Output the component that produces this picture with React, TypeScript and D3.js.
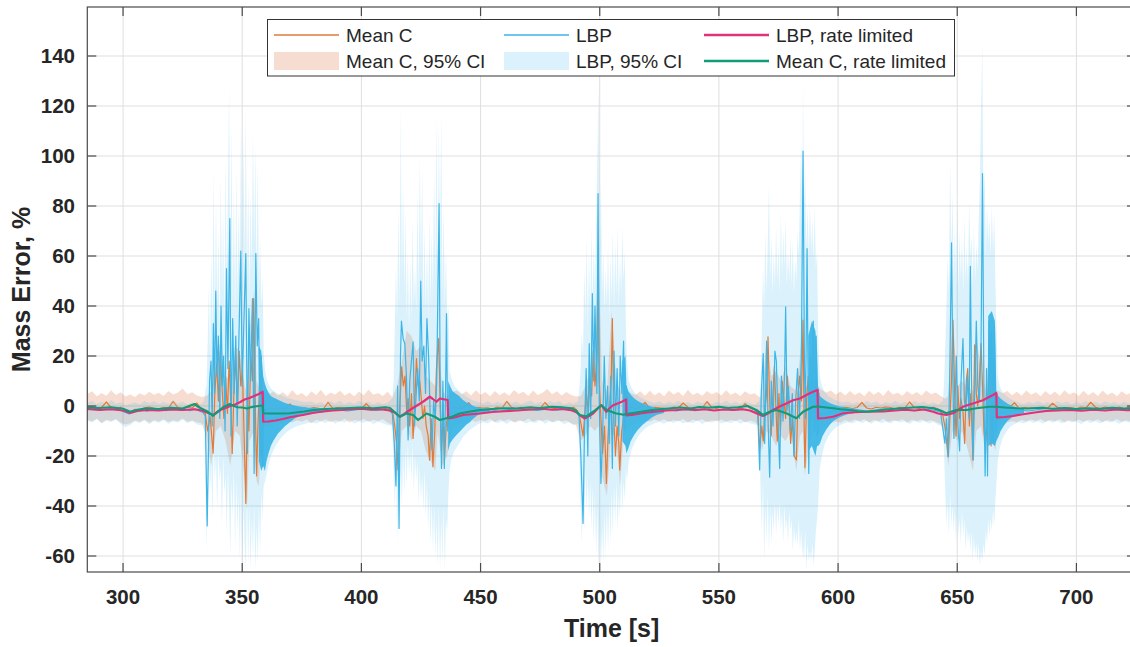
import React from 'react';
import * as d3 from 'd3';

// ---------------- data ----------------
const xTicks = [300, 350, 400, 450, 500, 550, 600, 650, 700];
const yTicks = [-60, -40, -20, 0, 20, 40, 60, 80, 100, 120, 140];
const xDomain: [number, number] = [285, 725];
const yDomain: [number, number] = [-66.4, 159.6];

const legendLabels = ['Mean C', 'LBP', 'LBP, rate limited', 'Mean C, 95% CI', 'LBP, 95% CI', 'Mean C, rate limited'];

// Mean C 95% CI: [t, lower, upper]
const meanCCI: [number, number, number][] = [
  [285, -5.5, 4.8], [287, -6.2, 5.9], [289, -5.1, 3.9], [291, -6.8, 5.2], [293, -5.4, 4.1], [295, -6.0, 6.3],
  [297, -5.2, 4.4], [299, -6.6, 5.5], [301, -7.4, 3.8], [303, -6.9, 4.6], [305, -5.8, 3.6], [307, -6.3, 5.1],
  [309, -5.5, 4.2], [311, -6.7, 5.7], [313, -5.6, 4.5], [315, -6.2, 5.3], [317, -5.3, 4.0], [319, -6.4, 6.0],
  [321, -5.7, 4.6], [323, -6.1, 5.4], [325, -5.0, 7.0], [327, -6.3, 4.7], [329, -5.8, 5.5], [331, -6.5, 4.2],
  [333, -7.0, 3.6],
  [335, -12, 4], [337, -24, 6], [339, -10, 20], [341, -8, 26], [343, -14, 12], [345, -24, 10], [347, -10, 24],
  [349, -12, 22], [351, -30, 8], [352, -42, 6], [353, -14, 30], [355, -10, 46], [356, -30, 10], [357, -32, 8],
  [358, -12, 10], [359, -8, 6],
  [361, -8.5, 4.5], [363, -7.2, 5.8], [365, -6.5, 4.1], [367, -7.0, 5.6], [369, -5.9, 3.9], [371, -6.6, 6.4],
  [373, -5.7, 4.3], [375, -6.3, 5.2], [377, -5.4, 3.7], [379, -6.9, 5.9], [381, -5.5, 4.4], [383, -6.1, 6.5],
  [385, -5.3, 4.0], [387, -6.5, 5.3], [389, -5.7, 4.6], [391, -6.2, 6.1], [393, -5.1, 4.2], [395, -6.6, 5.4],
  [397, -5.6, 3.9], [399, -6.0, 5.8], [401, -5.2, 4.3], [403, -6.4, 6.6], [405, -5.5, 4.5], [407, -6.1, 5.2],
  [409, -5.3, 4.0], [411, -6.7, 5.7], [413, -7.5, 3.5],
  [415, -28, 8], [417, -10, 18], [419, -8, 30], [421, -14, 28], [423, -8, 22], [425, -10, 24], [427, -18, 12],
  [429, -22, 10], [431, -26, 8], [432, -10, 30], [434, -24, 6], [436, -20, 4],
  [438, -9, 5.5], [440, -7.5, 6.2], [442, -6.8, 4.6], [444, -6.2, 5.9], [446, -5.5, 4.2], [448, -6.4, 6.3],
  [450, -5.6, 4.5], [452, -6.1, 5.6], [454, -5.2, 3.9], [456, -6.5, 6.0], [458, -5.4, 4.3], [460, -6.0, 5.5],
  [462, -5.3, 4.1], [464, -6.6, 6.4], [466, -5.7, 4.8], [468, -6.2, 5.7], [470, -5.1, 4.0], [472, -6.3, 6.2],
  [474, -5.5, 4.4], [476, -6.0, 5.3], [478, -5.4, 6.8], [480, -6.5, 4.7], [482, -5.6, 5.9], [484, -6.2, 4.2],
  [486, -5.8, 5.6], [488, -6.9, 4.4], [490, -7.5, 3.8],
  [492, -14, 4], [494, -12, 8], [496, -8, 14], [498, -10, 30], [499.5, -8, 58], [501, -28, 10], [503, -36, 6],
  [505, -10, 38], [507, -14, 10], [508.5, -32, 6], [510, -12, 8], [511, -10, 6],
  [513, -8, 5.2], [515, -7, 4.4], [517, -6.5, 5.9], [519, -5.8, 4.1], [521, -6.3, 6.1], [523, -5.4, 4.3],
  [525, -6.1, 5.5], [527, -5.3, 3.9], [529, -6.4, 6.2], [531, -5.6, 4.6], [533, -6.2, 5.7], [535, -5.2, 4.0],
  [537, -6.7, 6.5], [539, -5.5, 4.4], [541, -6.0, 5.3], [543, -5.3, 4.1], [545, -6.5, 6.0], [547, -5.7, 4.7],
  [549, -6.1, 5.6], [551, -5.4, 4.2], [553, -6.3, 6.3], [555, -5.6, 4.5], [557, -6.0, 5.4], [559, -5.2, 4.0],
  [561, -6.6, 5.9], [563, -5.8, 4.6], [565, -6.4, 5.1], [567, -8, 3.5],
  [568, -18, 4], [570, -10, 26], [572, -12, 12], [574, -16, 14], [576, -12, 10], [578, -14, 16], [580, -10, 8],
  [582.5, -26, 6], [584, -12, 20], [585.3, -10, 38], [586, -28, 8], [588, -14, 8], [590, -10, 10], [591.5, -12, 8],
  [593, -9, 6.5], [595, -8, 5.4], [597, -6.8, 6.2], [599, -6.2, 4.5], [601, -6.7, 5.8], [603, -5.6, 4.2],
  [605, -6.3, 6.0], [607, -5.4, 4.4], [609, -6.1, 5.5], [611, -5.3, 3.9], [613, -6.5, 6.1], [615, -5.6, 4.5],
  [617, -6.2, 5.7], [619, -5.1, 4.0], [621, -6.4, 6.4], [623, -5.7, 4.6], [625, -6.0, 5.3], [627, -5.3, 4.1],
  [629, -6.6, 6.0], [631, -5.5, 4.5], [633, -6.1, 5.6], [635, -5.4, 4.2], [637, -6.2, 6.2], [639, -5.7, 4.7],
  [641, -6.3, 5.4], [643, -7.2, 4.0],
  [645, -12, 3], [646.2, -24, 4], [648, -10, 38], [650, -14, 8], [652, -10, 10], [654, -16, 8], [656.6, -26, 6],
  [658, -10, 28], [660, -8, 14], [662, -20, 6], [664, -10, 30], [666, -18, 6],
  [667, -8.5, 6.2], [669, -7.4, 5.1], [671, -6.6, 6.0], [673, -6.0, 4.3], [675, -6.5, 5.7], [677, -5.5, 4.1],
  [679, -6.2, 6.2], [681, -5.4, 4.5], [683, -6.0, 5.5], [685, -5.2, 3.9], [687, -6.4, 6.0], [689, -5.6, 4.4],
  [691, -6.1, 5.8], [693, -5.3, 4.1], [695, -6.6, 6.3], [697, -5.7, 4.6], [699, -6.2, 5.5], [701, -5.4, 4.0],
  [703, -6.3, 6.1], [705, -5.5, 4.3], [707, -6.0, 5.6], [709, -5.3, 4.0], [711, -6.5, 6.2], [713, -5.6, 4.4],
  [715, -6.1, 5.4], [717, -5.2, 3.9], [719, -6.4, 5.9], [721, -5.7, 4.5], [723, -6.2, 5.3], [725, -5.5, 4.4],
];

// LBP 95% CI: [t, lower, upper]
const lbpCI: [number, number, number][] = [
  [285, -5.8, 1.2], [287, -6.6, 2.1], [289, -5.2, 0.8], [291, -7.0, 1.8], [293, -5.9, 0.6], [295, -6.4, 2.4],
  [297, -5.5, 1.0], [299, -7.2, 1.6], [301, -8.5, 0.2], [303, -7.6, 0.9], [305, -6.1, 1.5], [307, -6.9, 0.7],
  [309, -5.7, 2.0], [311, -7.3, 1.1], [313, -6.0, 1.9], [315, -6.8, 0.8], [317, -5.6, 1.7], [319, -7.1, 0.9],
  [321, -6.2, 2.2], [323, -6.7, 1.0], [325, -5.4, 1.8], [327, -6.9, 0.7], [329, -6.0, 1.5], [331, -7.4, 0.4],
  [333, -7.8, 1.0],
  [334.0, -7, 2], [334.5, -20, 6], [335.0, -58, 8], [335.5, -30, 25], [336.0, -18, 48], [336.5, -35, 20],
  [337.0, -22, 62], [337.5, -45, 30], [338.0, -15, 95], [338.5, -30, 35], [339.0, -20, 82], [339.5, -42, 40],
  [340.0, -18, 70], [340.5, -30, 28], [341.0, -25, 92], [341.5, -48, 45], [342.0, -20, 78], [342.5, -35, 30],
  [343.0, -28, 100], [343.5, -52, 50], [344.0, -25, 85], [344.5, -40, 128], [345.0, -60, 45], [345.5, -30, 112],
  [346.0, -45, 40], [346.5, -25, 88], [347.0, -58, 35], [347.5, -30, 95], [348.0, -50, 42], [348.5, -35, 80],
  [349.0, -62, 55], [349.5, -30, 115], [350.0, -66, 48], [350.5, -40, 108], [351.0, -55, 60], [351.5, -66, 118],
  [352.0, -35, 50], [352.5, -64, 90], [353.0, -40, 45], [353.5, -66, 85], [354.0, -45, 55], [354.5, -60, 110],
  [355.0, -40, 65], [355.5, -66, 104], [356.0, -48, 50], [356.5, -62, 98], [357.0, -40, 45], [357.5, -58, 68],
  [358.0, -35, 40], [358.5, -45, 52], [359.0, -32, 22], [359.6, -30, 14],
  [360.5, -26, 10], [362, -20, 7], [364, -16, 5.5], [366, -13, 4.5], [368, -11, 3.5], [370, -9.5, 3],
  [373, -8, 2.2], [376, -7.2, 1.5], [379, -6.5, 1.8], [381, -7.0, 0.9], [383, -6.1, 1.6], [385, -6.8, 0.7],
  [387, -5.6, 1.9], [389, -7.1, 1.0], [391, -6.0, 2.1], [393, -6.6, 0.8], [395, -5.5, 1.7], [397, -7.0, 0.9],
  [399, -6.2, 2.0], [401, -6.7, 1.2], [403, -5.8, 1.8], [405, -7.2, 0.6], [407, -6.3, 1.6], [409, -6.9, 0.8],
  [411, -7.6, 1.4],
  [413.0, -8, 3], [413.5, -25, 10], [414.0, -42, 30], [414.5, -20, 55], [415.0, -55, 35], [415.5, -30, 80],
  [416.0, -45, 40], [416.5, -25, 120], [417.0, -40, 50], [417.5, -20, 90], [418.0, -35, 45], [418.5, -18, 78],
  [419.0, -32, 35], [419.5, -15, 62], [420.0, -28, 30], [420.5, -18, 58], [421.0, -30, 35], [421.5, -15, 75],
  [422.0, -35, 40], [422.5, -20, 55], [423.0, -30, 38], [423.5, -22, 85], [424.0, -40, 45], [424.5, -25, 100],
  [425.0, -38, 55], [425.5, -28, 95], [426.0, -42, 40], [426.5, -25, 72], [427.0, -45, 38], [427.5, -30, 65],
  [428.0, -50, 35], [428.5, -35, 78], [429.0, -55, 40], [429.5, -38, 70], [430.0, -58, 45], [430.5, -40, 95],
  [431.0, -60, 50], [431.5, -45, 116], [432.0, -64, 55], [432.5, -40, 112], [433.0, -66, 60], [433.5, -45, 118],
  [434.0, -62, 45], [434.5, -40, 80], [435.0, -66, 40], [435.5, -45, 62], [436.0, -50, 35], [436.5, -35, 40],
  [437.0, -26, 14],
  [437.8, -21, 11], [439, -18, 8], [441, -15, 6], [443, -12, 4.5], [445, -10, 3.2], [447, -8.5, 2.2],
  [449, -7.2, 1.6], [451, -6.5, 1.0], [453, -7.0, 1.9], [455, -5.8, 0.8], [457, -6.9, 1.7], [459, -6.1, 0.9],
  [461, -7.2, 2.0], [463, -5.9, 1.1], [465, -6.6, 1.8], [467, -5.7, 0.7], [469, -7.0, 1.6], [471, -6.3, 2.2],
  [473, -6.8, 1.0], [475, -5.6, 1.7], [477, -7.1, 0.8], [479, -6.0, 1.9], [481, -6.7, 1.2], [483, -5.8, 2.0],
  [485, -7.3, 0.6], [487, -6.4, 1.5], [489, -7.8, 0.9],
  [491.0, -7, 2], [491.5, -20, 8], [492.0, -40, 15], [492.5, -55, 30], [493.0, -35, 20], [493.5, -50, 55],
  [494.0, -25, 35], [494.5, -42, 68], [495.0, -28, 30], [495.5, -45, 62], [496.0, -30, 35], [496.5, -50, 72],
  [497.0, -32, 40], [497.5, -55, 65], [498.0, -35, 45], [498.5, -60, 75], [499.0, -40, 100], [499.5, -66, 128],
  [500.0, -45, 60], [500.5, -64, 90], [501.0, -48, 45], [501.5, -62, 62], [502.0, -42, 38], [502.5, -60, 55],
  [503.0, -40, 40], [503.5, -58, 65], [504.0, -38, 35], [504.5, -55, 60], [505.0, -35, 42], [505.5, -52, 70],
  [506.0, -32, 38], [506.5, -48, 66], [507.0, -30, 45], [507.5, -50, 72], [508.0, -35, 40], [508.5, -45, 60],
  [509.0, -28, 45], [509.5, -42, 72], [510.0, -30, 50], [510.5, -38, 62], [511.0, -25, 30], [511.4, -30, 18],
  [512.2, -22, 10], [513.5, -17, 7], [515, -14, 5], [517, -11, 3.5], [519, -9, 2.5], [521, -7.8, 1.8],
  [523, -7.0, 1.2], [525, -6.4, 1.9], [527, -7.1, 0.8], [529, -6.0, 1.7], [531, -6.8, 1.0], [533, -5.7, 2.1],
  [535, -7.0, 0.9], [537, -6.2, 1.6], [539, -6.9, 0.7], [541, -5.8, 1.8], [543, -7.2, 1.1], [545, -6.1, 2.0],
  [547, -6.7, 0.8], [549, -5.6, 1.6], [551, -7.0, 1.0], [553, -6.3, 2.2], [555, -6.8, 0.9], [557, -5.9, 1.7],
  [559, -7.1, 0.8], [561, -6.2, 1.9], [563, -6.9, 1.2], [565, -7.4, 0.5],
  [567.0, -8, 2], [567.5, -35, 10], [568.0, -50, 30], [568.5, -30, 55], [569.0, -62, 40], [569.5, -40, 70],
  [570.0, -55, 45], [570.5, -35, 65], [571.0, -58, 88], [571.5, -40, 50], [572.0, -55, 68], [572.5, -42, 45],
  [573.0, -50, 62], [573.5, -38, 48], [574.0, -52, 72], [574.5, -40, 50], [575.0, -48, 65], [575.5, -38, 45],
  [576.0, -50, 78], [576.5, -42, 52], [577.0, -55, 70], [577.5, -40, 55], [578.0, -50, 75], [578.5, -45, 48],
  [579.0, -55, 62], [579.5, -42, 50], [580.0, -50, 68], [580.5, -45, 48], [581.0, -58, 66], [581.5, -48, 45],
  [582.0, -55, 58], [582.5, -50, 50], [583.0, -56, 70], [583.5, -45, 60], [584.0, -58, 85], [584.5, -50, 105],
  [585.0, -60, 75], [585.3, -55, 130], [585.7, -62, 80], [586.2, -50, 95], [586.7, -66, 62], [587.2, -55, 80],
  [587.7, -62, 60], [588.2, -58, 82], [588.7, -62, 62], [589.2, -55, 75], [589.7, -64, 58], [590.2, -58, 80],
  [590.7, -50, 55], [591.2, -45, 62], [591.6, -40, 30], [592.3, -25, 12],
  [593.2, -20, 8], [594.5, -15, 5.5], [596, -12, 4], [598, -9.5, 2.8], [600, -8, 2], [602, -7.2, 1.4],
  [604, -6.5, 1.8], [606, -7.0, 0.9], [608, -5.9, 1.6], [610, -6.8, 0.8], [612, -6.0, 2.0], [614, -7.1, 1.1],
  [616, -5.7, 1.8], [618, -6.9, 0.7], [620, -6.2, 1.6], [622, -7.0, 1.0], [624, -5.8, 2.1], [626, -6.6, 0.9],
  [628, -6.1, 1.7], [630, -7.2, 0.8], [632, -5.9, 1.9], [634, -6.7, 1.1], [636, -6.0, 1.8], [638, -7.0, 0.7],
  [640, -6.4, 1.5], [642, -7.6, 0.6],
  [644.0, -8, 2], [644.5, -20, 10], [645.0, -35, 25], [645.5, -48, 40], [646.0, -38, 60], [646.5, -52, 45],
  [647.0, -35, 98], [647.5, -48, 62], [648.0, -40, 85], [648.5, -50, 50], [649.0, -42, 72], [649.5, -55, 48],
  [650.0, -40, 78], [650.5, -52, 45], [651.0, -45, 70], [651.5, -55, 50], [652.0, -42, 68], [652.5, -52, 45],
  [653.0, -45, 76], [653.5, -58, 50], [654.0, -48, 64], [654.5, -55, 48], [655.0, -50, 82], [655.5, -58, 60],
  [656.0, -50, 68], [656.5, -62, 48], [657.0, -52, 72], [657.5, -60, 50], [658.0, -55, 65], [658.5, -62, 55],
  [659.0, -55, 74], [659.5, -64, 90], [660.0, -58, 120], [660.5, -62, 145], [661.0, -55, 80], [661.5, -60, 95],
  [662.0, -50, 60], [662.5, -55, 80], [663.0, -45, 65], [663.5, -52, 76], [664.0, -45, 60], [664.5, -50, 80],
  [665.0, -42, 62], [665.5, -48, 78], [666.0, -38, 50], [666.5, -30, 30], [667.0, -22, 12],
  [667.8, -17, 8], [669, -13, 5.5], [670.5, -10.5, 4], [672, -8.5, 3], [674, -7.2, 2], [676, -6.5, 1.4],
  [678, -7.0, 0.8], [680, -5.9, 1.7], [682, -6.8, 1.0], [684, -6.1, 2.0], [686, -7.1, 0.9], [688, -5.8, 1.6],
  [690, -6.7, 0.8], [692, -6.0, 1.9], [694, -7.0, 1.1], [696, -5.7, 1.8], [698, -6.6, 0.7], [700, -6.2, 1.6],
  [702, -7.2, 1.0], [704, -5.9, 2.0], [706, -6.8, 0.9], [708, -6.1, 1.7], [710, -7.0, 0.8], [712, -5.8, 1.9],
  [714, -6.6, 1.1], [716, -6.2, 1.6], [718, -7.1, 0.7], [720, -6.0, 1.8], [722, -6.7, 1.0], [724, -5.9, 1.5],
  [725, -6.4, 1.2],
];

// Mean C: [t, value]
const meanC: [number, number][] = [
  [285, -0.6], [287, -0.3], [289, -0.9], [291, -0.6], [293, 1.6], [295, -0.7], [297, -1.0], [299, -0.5],
  [301, -1.8], [303, -2.4], [305, -1.3], [307, -1.5], [309, -0.7], [311, -0.4], [313, -0.9], [315, -1.1],
  [317, -0.6], [319, -0.9], [321, 1.8], [323, -0.6], [325, -1.0], [327, -0.5], [329, -0.8], [331, 1.2], [333, -1.5],
  [334.5, -3], [335.5, -10], [336.5, -4], [337.8, -18.9], [338.5, 5], [339.3, 17], [340.0, 2], [340.8, 22],
  [341.5, 8], [342.3, -5], [343.0, 12], [343.8, -3], [344.5, 18], [345.2, 2], [345.8, -19], [346.5, 5],
  [347.2, 20], [348.0, 0], [348.7, 22], [349.4, 8], [350.1, 15], [350.8, -12], [351.5, -39], [352.2, 5],
  [352.8, -10], [353.6, 20], [354.3, 10], [354.8, 43], [355.4, 5], [356.0, -28], [356.7, -5], [357.4, 10],
  [358.0, -20], [358.6, 0], [359.2, -2], [360, -1.5],
  [362, -0.9], [364, -1.5], [366, -0.8], [368, -1.2], [370, 0.8], [372, -1.0], [374, -1.3], [376, -0.7],
  [378, -1.1], [380, -0.6], [382, -0.9], [384, -1.3], [386, 1.5], [388, -1.0], [390, -0.6], [392, -0.8],
  [394, -1.1], [396, -1.4], [398, -0.5], [400, -1.2], [402, 0.9], [404, -0.9], [406, -1.2], [408, -0.6],
  [410, -1.0], [412, -1.6],
  [413.2, -3], [414.0, -8], [414.8, -15], [415.4, -25.6], [416.1, 0], [416.9, 15.7], [417.6, 8], [418.3, 12],
  [419.0, -2], [419.6, 3], [420.3, -8], [421.0, 5], [421.7, -13], [422.4, 2], [423.1, 19], [423.8, 8],
  [424.5, 10], [425.2, 2], [425.8, -5], [426.5, 0], [427.2, -8], [428.0, -12], [428.6, -21.7], [429.3, -5],
  [430.0, -24.3], [430.8, -10], [431.5, 15], [432.4, 27], [433.0, 5], [433.6, -18], [434.3, -5], [434.9, -20],
  [435.6, -8], [436.3, -2], [437, -1.2],
  [439, -0.5], [441, -1.1], [443, -0.7], [445, 1.3], [447, -1.0], [449, -0.6], [451, -0.8], [453, -0.7],
  [455, -1.2], [457, -0.4], [459, -0.9], [461, 1.8], [463, -0.6], [465, -1.0], [467, -0.5], [469, -0.8],
  [471, -0.3], [473, -0.6], [475, -1.0], [477, 1.4], [479, -0.6], [481, -1.1], [483, -0.4], [485, -0.7],
  [487, -1.2], [489, -0.5], [490.5, -1.8],
  [491.5, -4], [492.3, -8], [493.0, -12], [493.7, -4], [494.4, 5], [495.2, -2], [495.8, 10], [496.6, 4],
  [497.3, 22], [498.0, 8], [498.8, 20], [499.3, 49], [499.8, 10], [500.5, -5], [501.2, -19], [502.0, -8],
  [502.8, -31], [503.5, -12], [504.2, 0], [504.8, 10], [505.3, 35], [505.9, -5], [506.6, -20], [507.3, -8],
  [508.0, -15], [508.4, -25.6], [509.2, -10], [510.0, -5], [510.8, -2], [511.5, -1.5],
  [513, -0.4], [515, -1.1], [517, -0.6], [519, 1.4], [521, -0.9], [523, -0.5], [525, -0.7], [527, -0.9],
  [529, -1.3], [531, -0.4], [533, -0.7], [535, 1.2], [537, -0.5], [539, -1.1], [541, -0.4], [543, -0.8],
  [545, 1.7], [547, -0.6], [549, -1.0], [551, -0.4], [553, -0.8], [555, -0.5], [557, -0.7], [559, -1.2],
  [561, 0.9], [563, -0.8], [565, -1.6], [566.4, -3],
  [567.1, -17], [568.0, -8], [568.6, -14], [569.3, -2], [570.0, 5], [570.6, 27.7], [571.2, 5], [571.9, -12],
  [572.6, 3], [573.3, 16], [573.9, 0], [574.5, -14], [575.2, 5], [575.8, -10], [576.6, 10], [577.3, 2],
  [578.0, -5], [578.7, 12], [579.4, 0], [580.1, -15], [580.8, -5], [581.6, -20], [582.5, -21.6], [583.2, 5],
  [583.9, 12], [584.6, 2], [585.3, 34.4], [585.8, -10], [586.1, -24.7], [586.8, 3], [587.5, 12], [588.3, -8],
  [588.9, 2], [589.6, 5], [590.2, -5], [590.8, 10], [591.4, -2], [592, 0.5],
  [594, 1.6], [596, -0.8], [598, -0.4], [600, -1.1], [602, -0.5], [604, -0.6], [606, -1.0], [608, -0.6],
  [610, 1.4], [612, -0.8], [614, -1.2], [616, -0.5], [618, -0.8], [620, -0.4], [622, -0.6], [624, -1.1],
  [626, -0.5], [628, -0.8], [630, 1.6], [632, -0.6], [634, -1.0], [636, -0.4], [638, -0.7], [640, -0.5],
  [642, -1.2], [643.8, -3],
  [644.8, -8], [645.6, -15], [646.2, -20.3], [646.9, -5], [647.6, 10], [648.2, 34.4], [648.9, 5], [649.5, -12],
  [650.2, 8], [650.9, -5], [651.5, 3], [652.4, -2], [653.1, -15], [653.8, 10], [654.4, 15], [655.1, -8],
  [655.7, 5], [656.6, -21.6], [657.3, 24.5], [658.0, 5], [658.6, 0], [659.3, 10], [660.0, 25], [660.6, 8],
  [661.2, -10], [661.8, -16], [662.5, -8], [663.1, 10], [663.6, 28], [664.2, -16], [664.8, 5], [665.4, 20],
  [666.0, -5], [666.6, -1.5],
  [668, -0.4], [670, -0.9], [672, -0.5], [674, 1.3], [676, -1.0], [678, -0.6], [680, -0.8], [682, -0.7],
  [684, -1.2], [686, -0.4], [688, -0.8], [690, 1.1], [692, -0.5], [694, -1.0], [696, -0.6], [698, -0.7],
  [700, -1.1], [702, -0.4], [704, -0.8], [706, 1.5], [708, -0.5], [710, -1.0], [712, -0.4], [714, -0.7],
  [716, -0.9], [718, -0.4], [720, -1.1], [722, -0.5], [724, -0.8], [725, -0.6],
];

// LBP: [t, value]
const lbp: [number, number][] = [
  [285, -0.8], [287, -1.3], [289, -0.9], [291, -1.6], [293, -1.1], [295, -1.4], [297, -1.0], [299, -1.8],
  [301, -2.6], [302.5, -3.2], [304, -2.4], [306, -1.9], [308, -1.5], [310, -2.1], [312, -1.4], [314, -1.8],
  [316, -1.2], [318, -1.9], [320, -1.5], [322, -1.1], [324, -1.7], [326, -1.3], [328, -1.9], [330, -1.2],
  [332, -2.0], [333.5, -2.6],
  [334.5, -4], [335.3, -48], [335.8, -20], [336.3, 10], [336.9, 18], [337.4, -8], [337.9, 33], [338.4, 5],
  [338.9, 46], [339.4, 12], [340.0, 28], [340.6, -5], [341.1, 40], [341.7, 8], [342.2, 20], [342.8, -10],
  [343.4, 55], [344.0, 15], [344.8, 75], [345.3, -12], [346.0, 35], [346.6, 5], [347.3, 28], [347.9, -8],
  [348.5, 22], [349.4, 62], [350.0, 8], [350.6, 30], [351.5, 61], [352.2, -19], [352.8, 39], [353.5, 10],
  [354.3, 43], [355.0, -27], [355.7, 61], [356.3, 24], [356.9, 35], [357.5, -20], [358.0, 20], [358.6, -24],
  [359.0, 5],
  [360, -6], [363, -5], [366, -4], [370, -3], [374, -2.4], [378, -2.0], [382, -1.6], [386, -1.9], [390, -1.4],
  [394, -2.0], [398, -1.5], [402, -1.2], [406, -1.8], [410, -1.3], [412, -2.0],
  [413.0, -3], [413.8, -15], [414.5, -32], [415.2, 8], [415.8, -49], [416.4, 20], [416.8, 34], [417.5, 27],
  [418.2, 25], [418.9, 12], [419.6, -13.6], [420.3, 10], [421.0, 18], [421.7, 25.7], [422.3, -8], [423.0, 5],
  [423.6, 15], [424.3, 2], [424.9, 50], [425.5, 18], [426.2, 24], [426.9, 5], [427.5, 35], [428.2, 19.7],
  [428.9, -5], [429.6, -17.6], [430.3, 2], [431.0, -5], [431.6, 10], [432.6, 81], [433.1, 0], [433.6, -25],
  [434.2, 10], [434.8, -25], [435.3, 5], [435.7, 37], [436.2, -10],
  [437, -3], [439, -2.5], [442, -3], [446, -2.5], [450, -2], [454, -1.5], [458, -2.1], [462, -1.4],
  [466, -1.9], [470, -1.3], [474, -1.8], [478, -1.2], [482, -1.7], [486, -1.1], [489, -1.9], [490.5, -2.5],
  [491.3, -4], [492.0, -18], [492.6, -35], [493.0, -47], [493.6, -10], [494.3, 15], [495.0, -20], [495.6, 25],
  [496.2, -5], [496.9, 45], [497.5, 10], [498.0, 40], [498.8, 5], [499.3, 85], [499.8, 2], [500.5, -31],
  [501.2, -12], [501.9, 20], [502.6, -5], [503.3, 8], [504.0, -15], [504.6, 12], [505.3, -25], [506.0, 22],
  [506.6, -8], [507.3, 15], [508.0, -12], [508.6, 20], [509.3, 5], [510.0, 26], [510.6, -10], [511.2, 8],
  [512, -4], [514, -3.5], [517, -3], [520, -2.4], [524, -2], [528, -1.5], [532, -2.0], [536, -1.4],
  [540, -1.9], [544, -1.3], [548, -1.8], [552, -1.2], [556, -1.7], [560, -1.3], [564, -2.0], [566.3, -2.8],
  [567.1, -25.6], [567.8, 5], [568.6, 21], [569.2, -15], [570.0, 26], [570.6, -5], [571.3, -28.5], [572.0, 10],
  [572.7, -8], [573.5, 22], [574.1, 18], [574.8, -5], [575.5, -25], [576.2, 12], [576.9, -6], [577.6, 15],
  [578.0, 39.7], [578.6, -2], [579.2, 8], [580.0, -10], [580.8, 5], [581.5, -20], [582.2, 2], [583.0, 15],
  [583.8, -5], [584.6, 20], [585.3, 102], [585.9, 15], [586.3, -5], [587.0, 63], [587.7, -27], [588.4, 20],
  [588.9, -5], [589.6, 34], [590.2, -10], [590.8, 28], [591.3, -12],
  [592, -3], [594, -3.2], [597, -2.5], [600, -2.2], [604, -1.8], [608, -1.4], [612, -2.0], [616, -1.5],
  [620, -1.1], [624, -1.8], [628, -1.3], [632, -1.9], [636, -1.2], [640, -1.6], [643, -2.4],
  [644.8, -14.9], [645.5, -5], [646.2, -20.3], [646.9, 15], [647.6, 65.3], [648.2, 10], [648.6, -13],
  [649.2, 5], [649.6, 20], [650.3, -8], [651.0, -18], [651.6, 10], [652.4, 27], [653.0, 2], [653.6, -2],
  [654.3, 12], [655.0, -5], [655.5, 55.9], [656.0, 10], [656.6, -21.6], [657.3, 5], [658.0, 34], [658.6, 8],
  [659.3, 2], [660.0, 25], [660.6, 93], [661.2, 5], [661.7, -28], [662.3, 15], [662.7, -28], [663.3, 34],
  [663.9, 10], [664.4, 30], [665.0, -14], [665.6, 32], [666.2, -10],
  [667, -3], [669, -2.5], [672, -2], [676, -1.6], [680, -2.0], [684, -1.4], [688, -1.8], [692, -1.2],
  [696, -1.7], [700, -1.3], [704, -1.9], [708, -1.4], [712, -1.8], [716, -1.2], [720, -1.7], [725, -1.4],
];

// LBP fast oscillation after each manoeuvre (envelope of the dense trace): [t, lower, upper]
const lbpRinging: [number, number, number][][] = [
  [[357.0, -22, 24], [358.0, -26, 22], [358.8, -24, 12], [359.5, -26, 9], [360.2, -22, 7], [361.0, -19, 5.5],
   [362.0, -16, 4], [363.0, -14, 3.4], [364.0, -12.5, 3], [365.0, -11, 2.5], [366.5, -9.5, 1.8], [368.0, -8, 1.2],
   [370.0, -6.5, 0.6], [372.0, -5, 0.2], [374.0, -4, -0.2], [377.0, -3.5, -0.6], [380.0, -3, -0.8],
   [383.0, -2.6, -1.0], [386.0, -2.2, -1.2]],
  [[436.4, -18, 10], [437.2, -15, 8], [438.2, -13.5, 6], [439.5, -12, 5], [441.0, -10.5, 4], [442.5, -9, 2.5],
   [444.0, -7.5, 1.5], [445.5, -6.5, 0.8], [447.0, -5, 0], [449.0, -3.5, -0.6], [451.0, -3, -1], [454.0, -2.6, -1.2]],
  [[509.5, -14, 18], [510.8, -16, 20], [511.2, -19, 8], [512.0, -17, 6], [513.0, -14, 4.5], [514.5, -11.5, 3],
   [516.0, -9.5, 2], [518.0, -7.5, 1], [520.0, -6, 0.3], [522.0, -4.5, -0.3], [524.0, -3.5, -0.8], [527.0, -2.8, -1.1]],
  [[587.5, -18, 28], [589.0, -16, 34], [590.5, -20, 30], [591.2, -16, 22], [591.6, -16, 8], [592.4, -15, 4],
   [593.5, -12, 3], [595.0, -9.5, 2], [596.5, -7.5, 1.2], [598.0, -6, 0.6], [600.0, -4.8, 0], [602.0, -4, -0.4],
   [604.0, -3.3, -0.8], [607.0, -2.8, -1.1]],
  [[663.0, -16, 36], [664.5, -15, 38], [665.8, -16, 34], [666.4, -14, 6], [667.2, -12.5, 4], [668.2, -10, 3],
   [669.5, -8, 2], [671.0, -6, 1], [673.0, -4.5, 0], [675.0, -3.5, -0.6], [678.0, -2.8, -1.0]],
];

// LBP, rate limited: [t, value]
const lbpRate: [number, number][] = [
  [285, -1.2], [290, -1.6], [295, -1.3], [300, -1.8], [303, -2.8], [306, -2.0], [310, -1.6], [315, -1.8],
  [320, -1.4], [325, -1.6], [330, -1.3], [333, -1.8], [335, -2.5], [337.8, -3.6], [339, -2.8], [341, -1.5],
  [343, -0.8], [345, 0], [347, 0.6], [349, 1.5], [351, 2.6], [353, 3.2], [355, 4.0], [357, 4.8], [358.6, 5.7],
  [358.8, -6.3], [361, -6.2], [364, -5.8], [367, -5.2], [370, -4.5], [373, -4.0], [376, -3.5], [380, -2.7],
  [384, -2.2], [388, -1.8], [392, -1.6], [396, -1.3], [400, -1.1], [404, -1.5], [408, -1.3], [412, -1.8],
  [414, -2.6], [416.1, -4.3], [418, -3.2], [420, -1.8], [422, -0.6], [424, 0.6], [426, 1.8], [428.7, 3.7],
  [430, 2.8], [431.5, 1.7], [432.9, 3.0], [434, 2.8], [436.2, 2.4], [436.4, -5.0], [439, -4.6], [442.7, -3.6],
  [446, -3.3], [449.7, -3.0], [455, -2.4], [460, -2.1], [463.6, -1.9], [468, -1.6], [472, -1.4], [476, -1.1],
  [480, -1.5], [484, -1.2], [488, -1.7], [490, -2.4], [491.6, -3.6], [493.7, -5.0], [495.5, -4.0],
  [497.2, -3.0], [499, -1.2], [500.7, 0.3], [502.8, -2.3], [504, -1.0], [505.6, 0.3], [507.5, 1.0],
  [509.5, 1.8], [511.1, 2.6], [511.2, -3.8], [514, -3.5], [517, -3.0], [520, -2.6], [524, -2.2], [528, -1.8],
  [532, -1.6], [536, -1.3], [540, -1.6], [544, -1.3], [548, -1.8], [552, -1.4], [556, -1.6], [560, -1.3],
  [563, -1.8], [565.7, -2.9], [568.5, -4.0], [570.5, -3.0], [572.7, -1.6], [575.5, -0.2], [578.3, 1.0],
  [581.1, 2.3], [584.0, 3.0], [586.7, 4.4], [589.5, 5.7], [591.4, 6.4], [591.6, -5.0], [594.5, -4.8],
  [597.9, -4.3], [602.1, -2.9], [607, -2.5], [612, -2.3], [618.9, -2.2], [624, -1.8], [628, -1.5], [632, -1.8],
  [636, -1.4], [639.9, -2.3], [642, -3.0], [645.4, -3.6], [648.2, -2.9], [650.5, -1.5], [652.4, -0.3],
  [654.5, 0.4], [656.6, 1.0], [658.8, 1.7], [660.8, 2.3], [663, 3.4], [665.0, 4.4], [666.4, 5.2],
  [666.6, -4.6], [670, -4.4], [673.4, -4.0], [677, -3.4], [680.4, -2.9], [684, -2.4], [687.4, -2.0],
  [692, -1.8], [697, -1.6], [702, -1.9], [707, -1.5], [712, -1.8], [717, -1.4], [721, -1.7], [725, -1.5],
];

// Mean C, rate limited: [t, value]
const meanCRate: [number, number][] = [
  [285, -0.6], [290, -0.8], [295, -0.5], [300, -1.1], [303, -2.3], [306, -1.5], [310, -0.9], [315, -1.2],
  [320, -0.7], [325, -1.0], [330, 0.8], [332, -0.6], [335, -2.0], [337.8, -3.9], [340, -2.0], [342, -0.5],
  [344.8, 0.8], [346, 0.2], [348, -0.5], [350, -0.6], [352, -1.0], [354, -0.4], [356, -0.1], [358.6, 0.2],
  [358.8, -2.9], [362, -3.0], [366, -3.0], [370, -2.9], [376, -2.2], [380, -1.6], [385, -1.2], [390, -1.0],
  [395, -0.8], [400, -0.6], [405, -0.9], [410, -0.5], [412, -0.8], [414, -2.5], [416.1, -4.3], [418.9, -3.0],
  [421.7, -3.6], [423.8, -5.6], [427.3, -3.0], [430.8, -4.3], [432.9, -5.6], [435.7, -4.9], [438, -4.3],
  [441.3, -3.0], [445, -2.3], [449.7, -1.6], [455, -1.2], [460, -0.9], [465, -1.0], [470, -0.6], [475, -0.8],
  [480, -0.3], [484, -0.5], [488, -0.9], [490, -1.8], [491.6, -3.6], [494.5, -4.2], [497.2, -2.3],
  [500.7, 0.3], [503, -1.6], [506.6, -2.9], [510, -3.5], [511.2, -3.2], [514, -2.8], [518, -2.2], [522, -1.6],
  [526, -1.2], [530, -0.9], [534, -0.6], [538, -1.0], [542, -0.4], [546, -0.7], [550, -0.3], [554, -0.8],
  [558, -0.5], [562, 0.0], [565.7, -1.6], [568.5, -3.6], [571.3, -2.3], [574.1, -1.6], [578.3, -2.9],
  [582.5, -4.9], [585.3, -2.3], [589.5, -0.3], [591.6, -0.2], [595, -0.6], [597.9, -0.9], [601, -1.3],
  [604.9, -1.6], [608, -2.0], [612, -2.3], [616, -1.9], [620, -1.4], [625, -1.0], [630, -0.7], [635, -0.4],
  [639.9, -0.9], [643, -1.8], [645.4, -2.9], [649.6, -1.6], [653.9, -1.6], [658, -0.9], [663.6, -0.3],
  [666.4, -0.3], [670, -0.6], [675, -0.9], [680, -1.0], [685, -0.7], [690, -1.1], [695, -0.8], [700, -1.2],
  [705, -0.9], [710, -1.1], [715, -0.7], [720, -1.0], [725, -0.8],
];

// ---------------- drawing ----------------
const W = 1130;
const H = 647;
const M = { left: 87.3, right: 1136, top: 7, bottom: 572 };
const FONT = '"Liberation Sans", Arial, Helvetica, sans-serif';
const C = {
  meanC: '#E07B39',
  lbp: '#3DB5E6',
  ciMean: '#D95319',
  ciLbp: '#4DBEEE',
  pink: '#E3307A',
  teal: '#139A78',
  grid: '#DFDFDF',
  axis: '#4A4A4A',
  text: '#262626',
};

export default function App() {
  const x = d3.scaleLinear().domain(xDomain).range([M.left, M.right]);
  const y = d3.scaleLinear().domain(yDomain).range([M.bottom, M.top]);
  const band = d3
    .area<[number, number, number]>()
    .x((d) => x(d[0]))
    .y0((d) => y(d[1]))
    .y1((d) => y(d[2]));
  const line = d3
    .line<[number, number]>()
    .x((d) => x(d[0]))
    .y((d) => y(d[1]));

  const tickLen = 9;
  const legendX = [274, 504, 704];
  const legendRowY = [35, 61];
  const legendItems = [
    { label: legendLabels[0], kind: 'line', color: C.meanC, w: 1.3, col: 0, row: 0 },
    { label: legendLabels[1], kind: 'line', color: C.lbp, w: 1.3, col: 1, row: 0 },
    { label: legendLabels[2], kind: 'line', color: C.pink, w: 2.6, col: 2, row: 0 },
    { label: legendLabels[3], kind: 'patch', color: C.ciMean, w: 0, col: 0, row: 1 },
    { label: legendLabels[4], kind: 'patch', color: C.ciLbp, w: 0, col: 1, row: 1 },
    { label: legendLabels[5], kind: 'line', color: C.teal, w: 2.6, col: 2, row: 1 },
  ];

  return (
    <svg
      width={W}
      height={H}
      viewBox={`0 0 ${W} ${H}`}
      style={{ position: 'absolute', left: 0, top: 0, background: '#fff' }}
      fontFamily={FONT}
    >
      <defs>
        <clipPath id="plotClip">
          <rect x={M.left} y={M.top} width={M.right - M.left} height={M.bottom - M.top} />
        </clipPath>
      </defs>
      <rect x={0} y={0} width={W} height={H} fill="#fff" />

      {/* grid */}
      <g stroke={C.grid} strokeWidth={1}>
        {xTicks.map((t) => (
          <line key={'gx' + t} x1={x(t)} x2={x(t)} y1={M.top} y2={M.bottom} />
        ))}
        {yTicks.map((t) => (
          <line key={'gy' + t} x1={M.left} x2={M.right} y1={y(t)} y2={y(t)} />
        ))}
      </g>

      {/* data */}
      <g clipPath="url(#plotClip)">
        <path d={band(meanCCI) || ''} fill={C.ciMean} fillOpacity={0.2} stroke="none" />
        <path d={band(lbpCI) || ''} fill={C.ciLbp} fillOpacity={0.2} stroke="none" />
        <path d={line(meanC) || ''} fill="none" stroke={C.meanC} strokeWidth={1.2} strokeLinejoin="round" />
        {lbpRinging.map((seg, i) => (
          <path key={'ring' + i} d={band(seg) || ''} fill={C.lbp} fillOpacity={0.95} stroke="none" />
        ))}
        <path d={line(lbp) || ''} fill="none" stroke={C.lbp} strokeWidth={1.2} strokeLinejoin="round" />
        <path d={line(lbpRate) || ''} fill="none" stroke={C.pink} strokeWidth={2.2} strokeLinejoin="round" />
        <path d={line(meanCRate) || ''} fill="none" stroke={C.teal} strokeWidth={2.2} strokeLinejoin="round" />
      </g>

      {/* axes box and ticks */}
      <g stroke={C.axis} strokeWidth={1.2} fill="none">
        <rect x={M.left} y={M.top} width={M.right - M.left} height={M.bottom - M.top} />
        {xTicks.map((t) => (
          <g key={'tx' + t}>
            <line x1={x(t)} x2={x(t)} y1={M.bottom} y2={M.bottom - tickLen} />
            <line x1={x(t)} x2={x(t)} y1={M.top} y2={M.top + tickLen} />
          </g>
        ))}
        {yTicks.map((t) => (
          <g key={'ty' + t}>
            <line x1={M.left} x2={M.left + tickLen} y1={y(t)} y2={y(t)} />
            <line x1={M.right} x2={M.right - tickLen} y1={y(t)} y2={y(t)} />
          </g>
        ))}
      </g>

      {/* tick labels */}
      <g fill={C.text} fontWeight="bold" fontSize={20.5}>
        {xTicks.map((t) => (
          <text key={'lx' + t} x={x(t)} y={604} textAnchor="middle">
            {t}
          </text>
        ))}
        {yTicks.map((t) => (
          <text key={'ly' + t} x={75} y={y(t)} dy="0.36em" textAnchor="end">
            {t}
          </text>
        ))}
      </g>

      {/* axis titles */}
      <text x={(M.left + M.right) / 2} y={637} textAnchor="middle" fontWeight="bold" fontSize={25} fill={C.text}>
        Time [s]
      </text>
      <text
        transform={`translate(30, ${(M.top + M.bottom) / 2}) rotate(-90)`}
        textAnchor="middle"
        fontWeight="bold"
        fontSize={25}
        fill={C.text}
      >
        Mass Error, %
      </text>

      {/* legend */}
      <g>
        <rect x={267.5} y={19.5} width={687} height={56.5} fill="#fff" stroke="#333" strokeWidth={1} />
        {legendItems.map((it) => {
          const lx = legendX[it.col];
          const ly = legendRowY[it.row];
          return (
            <g key={it.label}>
              {it.kind === 'line' ? (
                <line x1={lx} x2={lx + 65} y1={ly} y2={ly} stroke={it.color} strokeWidth={it.w} />
              ) : (
                <rect x={lx} y={ly - 9} width={65} height={18} fill={it.color} fillOpacity={0.2} />
              )}
              <text x={lx + 72} y={ly} dy="0.36em" fontSize={19} fill={C.text}>
                {it.label}
              </text>
            </g>
          );
        })}
      </g>
    </svg>
  );
}
